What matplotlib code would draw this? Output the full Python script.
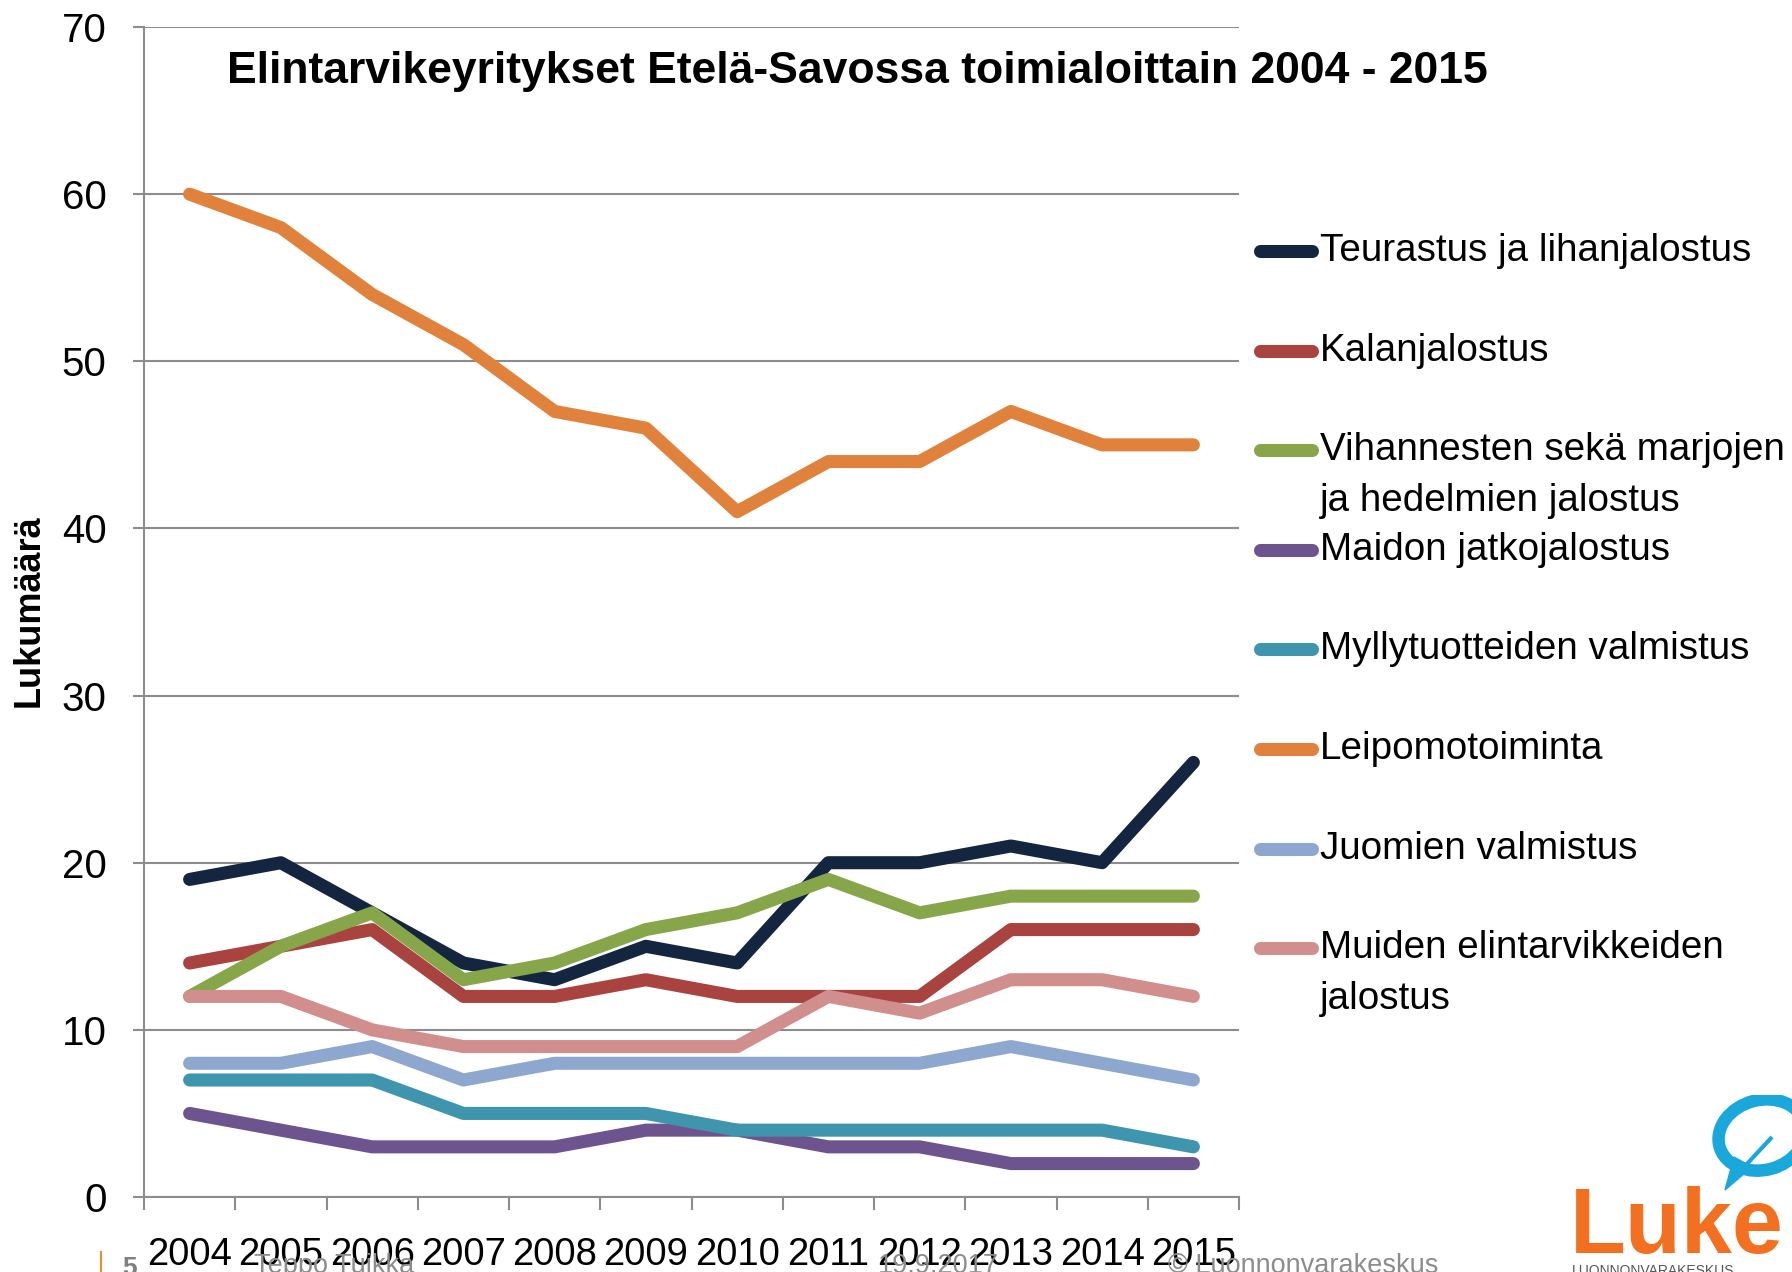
import numpy as np
import matplotlib
matplotlib.use("Agg")
import matplotlib.pyplot as plt
from matplotlib.lines import Line2D
from matplotlib.patches import Ellipse, Polygon

# data
years = ['2004', '2005', '2006', '2007', '2008', '2009',
         '2010', '2011', '2012', '2013', '2014', '2015']
teurastus = [19, 20, 17, 14, 13, 15, 14, 20, 20, 21, 20, 26]
kalanjalostus = [14, 15, 16, 12, 12, 13, 12, 12, 12, 16, 16, 16]
vihannekset = [12, 15, 17, 13, 14, 16, 17, 19, 17, 18, 18, 18]
maito = [5, 4, 3, 3, 3, 4, 4, 3, 3, 2, 2, 2]
mylly = [7, 7, 7, 5, 5, 5, 4, 4, 4, 4, 4, 3]
leipomo = [60, 58, 54, 51, 47, 46, 41, 44, 44, 47, 45, 45]
juomat = [8, 8, 9, 7, 8, 8, 8, 8, 8, 9, 8, 7]
muut = [12, 12, 10, 9, 9, 9, 9, 12, 11, 13, 13, 12]

names = ['Teurastus ja lihanjalostus', 'Kalanjalostus',
         'Vihannesten sekä marjojen\nja hedelmien jalostus',
         'Maidon jatkojalostus', 'Myllytuotteiden valmistus',
         'Leipomotoiminta', 'Juomien valmistus',
         'Muiden elintarvikkeiden\njalostus']
series = [teurastus, kalanjalostus, vihannekset, maito, mylly, leipomo, juomat, muut]
colors = ['#13253f', '#a8433f', '#87a64a', '#6d548f',
          '#3e95ad', '#e0823b', '#8ea7cf', '#d08e8d']

plt.rcParams['font.family'] = ['Liberation Sans', 'DejaVu Sans']

W, H = 1792, 1272
fig = plt.figure(figsize=(W / 100, H / 100), dpi=100)

# plot area in pixels
left, right, top, bottom = 144, 1239, 27, 1197
ax = fig.add_axes([left / W, 1 - bottom / H, (right - left) / W, (bottom - top) / H])

LW = 9.4
x = np.arange(len(years))
for vals, col in zip(series, colors):
    ax.plot(x, vals, color=col, lw=LW, solid_capstyle='round',
            solid_joinstyle='round', zorder=3)

grey = '#8c8c8c'
ax.set_xlim(-0.5, 11.5)
ax.set_ylim(0, 70)
ax.set_yticks(range(0, 71, 10))
ax.yaxis.grid(True, color=grey, lw=1.5)
ax.set_axisbelow(True)
for s in ['top', 'right']:
    ax.spines[s].set_visible(False)
for s in ['left', 'bottom']:
    ax.spines[s].set_color(grey)
    ax.spines[s].set_linewidth(1.5)

# tick marks between categories, labels at the centres
ax.set_xticks(np.arange(-0.5, 12, 1))
ax.set_xticklabels([])
ax.set_xticks(x, minor=True)
ax.set_xticklabels(years, minor=True)
ax.tick_params(axis='x', which='major', length=9, width=1.5, color=grey, direction='out')
ax.tick_params(axis='x', which='minor', length=0, pad=29, labelsize=27.5)
ax.tick_params(axis='y', length=8, width=1.5, color=grey, pad=19, labelsize=29)

# title + y label
fig.text(857 / W, 1 - 72 / H, 'Elintarvikeyritykset Etelä-Savossa toimialoittain 2004 - 2015',
         ha='center', va='center', fontsize=32, fontweight='bold')
fig.text(29 / W, 1 - 611 / H, 'Lukumäärä', rotation=90, ha='center', va='center',
         fontsize=26, fontweight='bold')

# legend drawn by hand (handle next to first line of each label)
for i, (nm, col) in enumerate(zip(names, colors)):
    yy = 1 - (251 + i * 99.6) / H
    fig.add_artist(Line2D([1260 / W, 1312 / W], [yy, yy], color=col, lw=LW,
                          solid_capstyle='round', transform=fig.transFigure))
    for k, part in enumerate(nm.split('\n')):
        fig.text(1320 / W, yy - k * 51 / H, part, ha='left', va='center', fontsize=27.8)

# footer
fig.add_artist(Line2D([101 / W, 101 / W], [0, 20 / H], color='#f28c28', lw=1.5,
                      transform=fig.transFigure))
fig.text(122 / W, 1 - 1256 / H, '5', fontsize=19, fontweight='bold', color='#7f7f7f', va='top')
fig.text(254 / W, 1 - 1253 / H, 'Teppo Tuikka', fontsize=19.5, color='#8c8c8c', va='top')
fig.text(878 / W, 1 - 1253 / H, '19.9.2017', fontsize=19.5, color='#8c8c8c', va='top')
fig.text(1168 / W, 1 - 1253 / H, '© Luonnonvarakeskus', fontsize=19.5, color='#8c8c8c', va='top')

# Luke logo
fig.text(1570 / W, 1 - 1253 / H, 'Luke', fontsize=66, color='#f37021', ha='left',
         va='baseline', fontweight='bold')
fig.text(1572 / W, 1 - 1264 / H, 'LUONNONVARAKESKUS', fontsize=10, color='#555555',
         ha='left', va='top')
lax = fig.add_axes([1690 / W, 1 - 1195 / H, 102 / W, 100 / H])
lax.set_xlim(0, 102)
lax.set_ylim(0, 100)
lax.axis('off')
lax.add_patch(Ellipse((72, 60), 88, 70, angle=15, fill=False, ec='#1aa7dc', lw=9))
lax.add_patch(Polygon([[35, 5], [44, 38], [62, 28]], closed=True, color='#1aa7dc'))
lax.plot([56, 82], [30, 58], color='#1aa7dc', lw=3, solid_capstyle='butt')

fig.savefig('out.png', dpi=100)
